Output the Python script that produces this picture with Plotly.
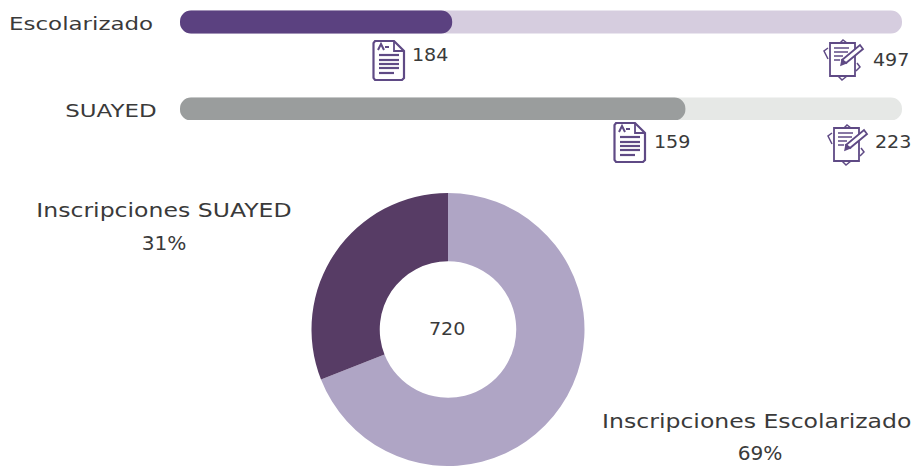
import plotly.graph_objects as go

W, H = 914, 466
FONT = "DejaVu Sans"
INK = "#3a3a3a"
ICON = "#5f4a85"

# Data
groups = ["Escolarizado", "SUAYED"]
approved = [184, 159]
enrolled = [497, 223]
fill_pct = [37.7, 70.0]
track_pct = [100, 100]
fill_colors = ["#5b4180", "#9a9d9d"]
track_colors = ["#d6cddf", "#e6e8e6"]
pie_labels = ["Inscripciones Escolarizado", "Inscripciones SUAYED"]
pie_pct = ["69%", "31%"]
pie_colors = ["#afa5c5", "#573c65"]


def px(x):
    return x / W


def py(y):
    return 1 - y / H


def path(points, close=False):
    s = "M" + " L".join(f"{px(x):.5f},{py(y):.5f}" for x, y in points)
    return s + (" Z" if close else "")


def icon_shape(points, ox, oy, close=False, width=1.6, fill=None):
    d = dict(type="path", xref="paper", yref="paper",
             path=path([(ox + x, oy + y) for x, y in points], close),
             line=dict(color=ICON, width=width), layer="above")
    if fill:
        d["fillcolor"] = fill
    return d


def doc_icon(ox, oy):
    shapes = [icon_shape([(2, 1), (21, 1), (31, 11), (31, 38), (29, 40), (2, 40), (0.5, 38), (0.5, 3)],
                         ox, oy, True, 2.2),
              icon_shape([(21, 1), (21, 11), (31, 11)], ox, oy, False, 1.8),
              icon_shape([(5, 10), (8, 4), (11, 10)], ox, oy, False, 2),
              icon_shape([(12, 7), (16, 7)], ox, oy, False, 2)]
    for y, x1 in [(15, 26), (20, 26), (24, 26), (28, 26), (33, 21)]:
        shapes.append(icon_shape([(6, y), (x1, y)], ox, oy, False, 2.2))
    return shapes


def pen_icon(ox, oy):
    shapes = [icon_shape([(6, 4), (31, 4), (31, 37), (6, 37)], ox, oy, True, 1.8),
              icon_shape([(4, 9), (0, 12), (4, 20)], ox, oy, False, 1.5),
              icon_shape([(16, 4), (19, 1), (23, 4)], ox, oy, False, 1.5),
              icon_shape([(14, 37), (18, 41), (23, 37)], ox, oy, False, 1.5),
              icon_shape([(33, 24), (36, 28), (32, 32)], ox, oy, False, 1.5),
              icon_shape([(10, 9), (25, 9)], ox, oy, False, 1.5),
              icon_shape([(10, 13), (24, 13)], ox, oy, False, 1.5),
              icon_shape([(10, 17), (19, 17)], ox, oy, False, 1.5),
              icon_shape([(10, 21), (16, 21)], ox, oy, False, 1.5),
              icon_shape([(18, 21), (36, 6), (39, 10), (22, 24)], ox, oy, True, 1.8, "#ffffff"),
              icon_shape([(18, 21), (17, 26), (22, 24)], ox, oy, True, 1.4, ICON)]
    return shapes


fig = go.Figure()
bar_common = dict(y=groups, orientation="h", width=0.264, hoverinfo="skip", showlegend=False, base=0)
fig.add_trace(go.Bar(x=track_pct,
                     marker=dict(color=track_colors, line_width=0, cornerradius=11),
                     **bar_common))
fig.add_trace(go.Bar(x=fill_pct,
                     marker=dict(color=fill_colors, line_width=0, cornerradius=11),
                     **bar_common))
fig.add_trace(go.Pie(labels=pie_labels, values=enrolled, hole=0.5, sort=False,
                     direction="clockwise", rotation=0, textinfo="none",
                     marker=dict(colors=pie_colors, line_width=0),
                     domain=dict(x=[px(311), px(585)], y=[0, py(193)]),
                     hoverinfo="label+percent", showlegend=False))

annotations = []


def label(text, x, y, size=18):
    annotations.append(dict(text=text, x=px(x), y=py(y), xref="paper", yref="paper",
                            xanchor="center", yanchor="middle", showarrow=False,
                            align="center", font=dict(family=FONT, size=size, color=INK)))


label(groups[0], 80.5, 23, 18.5)
label(groups[1], 111, 110, 18.5)
label(str(approved[0]), 430, 54)
label(str(enrolled[0]), 891, 60)
label(str(approved[1]), 672, 141)
label(str(enrolled[1]), 893, 141)
label(str(sum(enrolled)), 447, 328)
label(pie_labels[1], 164, 210, 19)
label(pie_pct[1], 164, 243, 19)
label(pie_labels[0], 756.5, 421, 19)
label(pie_pct[0], 760, 453, 19)

shapes = doc_icon(373, 40) + doc_icon(614, 122) + pen_icon(824, 39) + pen_icon(828, 124)

fig.update_layout(
    width=W, height=H, autosize=False,
    margin=dict(l=0, r=0, t=0, b=0),
    paper_bgcolor="#ffffff", plot_bgcolor="#ffffff",
    barmode="overlay",
    xaxis=dict(domain=[px(180), px(902)], range=[0, 100], visible=False, fixedrange=True),
    yaxis=dict(domain=[py(120), 1], range=[1 + 11 / 87, -22 / 87], visible=False,
               type="category", fixedrange=True),
    annotations=annotations, shapes=shapes,
)

# The reference face is much wider than any installed one: widen the glyphs of the real text.
widen = """
document.body.style.margin='0';
document.documentElement.style.overflow='hidden';
document.querySelectorAll('text.annotation-text').forEach(function (t) {
  var k = /[a-zA-Z]/.test(t.textContent) ? 1.24 : 1.06;
  t.setAttribute('textLength', t.getComputedTextLength() * k);
  t.setAttribute('lengthAdjust', 'spacingAndGlyphs');
});
"""
fig.write_html("out.html", config=dict(displayModeBar=False),
               default_width=W, default_height=H, post_script=widen)
